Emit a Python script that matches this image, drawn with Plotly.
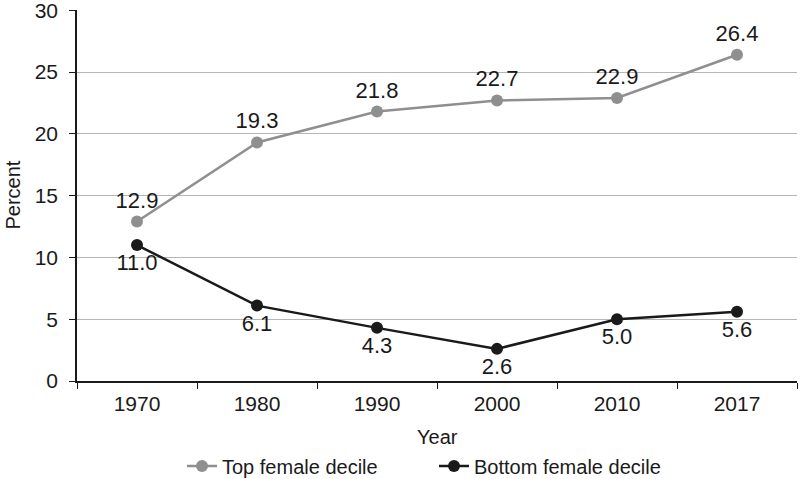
import plotly.graph_objects as go

years = ["1970", "1980", "1990", "2000", "2010", "2017"]
top_decile = [12.9, 19.3, 21.8, 22.7, 22.9, 26.4]
bottom_decile = [11.0, 6.1, 4.3, 2.6, 5.0, 5.6]
y_ticks = [0, 5, 10, 15, 20, 25, 30]

FONT = "Liberation Sans, Arial, sans-serif"

fig = go.Figure()
fig.add_trace(go.Scatter(
    x=years, y=top_decile, name="Top female decile",
    mode="lines+markers+text",
    line=dict(color="#8f8f8f", width=2.5),
    marker=dict(color="#8f8f8f", size=12),
    text=[f"{v:.1f}" for v in top_decile], textposition="top center",
    textfont=dict(size=22, color="#1a1a1a", family=FONT),
))
fig.add_trace(go.Scatter(
    x=years, y=bottom_decile, name="Bottom female decile",
    mode="lines+markers+text",
    line=dict(color="#1a1a1a", width=2.5),
    marker=dict(color="#1a1a1a", size=12),
    text=[f"{v:.1f}" for v in bottom_decile], textposition="bottom center",
    textfont=dict(size=22, color="#1a1a1a", family=FONT),
))

fig.update_layout(
    width=800, height=479,
    margin=dict(l=77, r=3, t=10, b=98, autoexpand=False),
    paper_bgcolor="white", plot_bgcolor="white",
    font=dict(family=FONT, size=20, color="#1a1a1a"),
    showlegend=True,
    legend=dict(orientation="h", x=0.2275, xanchor="left", xref="container",
                y=0.027, yanchor="middle", yref="container",
                font=dict(size=20), itemwidth=30, entrywidth=207,
                bgcolor="rgba(0,0,0,0)"),
    annotations=[
        dict(text="Year", xref="paper", yref="paper", x=0.5, y=(381 - 437) / 371,
             xanchor="center", yanchor="middle", showarrow=False, font=dict(size=20)),
        dict(text="Percent", xref="paper", yref="paper", x=(12 - 77) / 720, y=0.5,
             xanchor="center", yanchor="middle", textangle=-90, showarrow=False,
             font=dict(size=20)),
    ],
)
fig.update_xaxes(
    type="category", range=[-0.5, 5.5], automargin=False,
    showline=True, linecolor="#1a1a1a", linewidth=1.5,
    ticks="outside", tickson="boundaries", ticklen=6, tickcolor="#1a1a1a",
    showgrid=False, zeroline=False, ticklabelstandoff=3,
    tickfont=dict(size=21),
)
fig.update_yaxes(
    range=[0, 30.02], tickvals=y_ticks, automargin=False,
    showline=True, linecolor="#1a1a1a", linewidth=1.5,
    ticks="outside", ticklen=6, tickcolor="#1a1a1a", ticklabelstandoff=7,
    ticklabeloverflow="allow",
    showgrid=True, gridcolor="#b5b5b5", gridwidth=1.2, zeroline=False,
    tickfont=dict(size=21),
)

fig.write_html("out.html")
